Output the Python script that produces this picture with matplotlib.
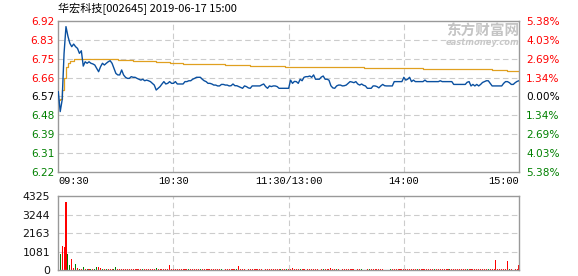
import matplotlib
matplotlib.use("Agg")
import matplotlib.pyplot as plt

# intraday minute prices (09:30 .. 11:30 / 13:00 .. 15:00), 241 points
price = [
    6.592, 6.500, 6.554, 6.770, 6.894, 6.850, 6.817, 6.801, 6.813, 6.801,
    6.793, 6.770, 6.782, 6.711, 6.731, 6.724, 6.731, 6.724, 6.721, 6.716,
    6.701, 6.685, 6.708, 6.724, 6.716, 6.724, 6.731, 6.736, 6.724, 6.701,
    6.677, 6.670, 6.670, 6.693, 6.670, 6.659, 6.654, 6.654, 6.662, 6.659,
    6.659, 6.654, 6.650, 6.646, 6.650, 6.643, 6.646, 6.643, 6.639, 6.631,
    6.623, 6.600, 6.608, 6.616, 6.628, 6.639, 6.628, 6.631, 6.639, 6.631,
    6.631, 6.639, 6.628, 6.628, 6.628, 6.628, 6.639, 6.639, 6.643, 6.643,
    6.650, 6.654, 6.659, 6.659, 6.659, 6.650, 6.643, 6.639, 6.631, 6.631,
    6.628, 6.623, 6.623, 6.619, 6.619, 6.626, 6.626, 6.623, 6.623, 6.619,
    6.620, 6.628, 6.620, 6.620, 6.616, 6.612, 6.608, 6.619, 6.616, 6.610,
    6.608, 6.619, 6.619, 6.619, 6.619, 6.619, 6.624, 6.628, 6.616, 6.608,
    6.619, 6.616, 6.619, 6.619, 6.616, 6.608, 6.608, 6.608, 6.608, 6.608,
    6.608, 6.646, 6.631, 6.640, 6.639, 6.631, 6.650, 6.643, 6.659, 6.662,
    6.662, 6.665, 6.659, 6.670, 6.650, 6.650, 6.650, 6.660, 6.665, 6.650,
    6.650, 6.646, 6.620, 6.610, 6.608, 6.619, 6.623, 6.623, 6.619, 6.620,
    6.623, 6.631, 6.639, 6.637, 6.634, 6.639, 6.628, 6.623, 6.628, 6.622,
    6.619, 6.608, 6.608, 6.608, 6.619, 6.619, 6.616, 6.610, 6.619, 6.626,
    6.620, 6.619, 6.619, 6.619, 6.619, 6.639, 6.639, 6.639, 6.639, 6.639,
    6.659, 6.646, 6.650, 6.659, 6.639, 6.646, 6.639, 6.639, 6.639, 6.639,
    6.639, 6.646, 6.639, 6.639, 6.639, 6.639, 6.639, 6.639, 6.639, 6.643,
    6.639, 6.639, 6.639, 6.639, 6.639, 6.639, 6.626, 6.626, 6.626, 6.626,
    6.626, 6.626, 6.626, 6.636, 6.639, 6.619, 6.626, 6.619, 6.626, 6.619,
    6.626, 6.635, 6.639, 6.643, 6.643, 6.631, 6.619, 6.619, 6.619, 6.619,
    6.619, 6.619, 6.631, 6.639, 6.639, 6.634, 6.626, 6.626, 6.634, 6.640,
    6.643,
]

# average price line (step changes)
avg_min = [0, 1, 2, 3, 4, 5, 6, 8, 10, 21, 31, 39, 51, 58, 65, 87, 100, 118, 159, 190, 226, 234, 240]
avg_val = [6.554, 6.560, 6.600, 6.654, 6.708, 6.727, 6.736, 6.742, 6.745, 6.742, 6.739, 6.733,
           6.728, 6.724, 6.719, 6.714, 6.710, 6.705, 6.701, 6.696, 6.691, 6.687, 6.687]

volume = [
    0, 940, 1410, 1350, 4010, 940, 290, 650, 140, 350,
    120, 80, 60, 180, 60, 60, 60, 60, 60, 60,
    180, 170, 100, 60, 60, 60, 60, 60, 60, 60,
    180, 60, 60, 60, 60, 60, 60, 60, 60, 60,
    60, 60, 60, 60, 60, 60, 60, 60, 60, 60,
    60, 120, 60, 60, 60, 60, 60, 60, 290, 60,
    60, 60, 60, 60, 60, 60, 60, 60, 60, 60,
    60, 60, 60, 60, 60, 60, 60, 60, 60, 60,
    60, 60, 60, 60, 60, 60, 0, 60, 60, 60,
    60, 60, 60, 60, 235, 60, 60, 60, 0, 60,
    60, 60, 60, 60, 60, 60, 60, 0, 60, 60,
    60, 60, 60, 60, 60, 60, 60, 60, 60, 60,
    60, 60, 100, 60, 60, 60, 60, 60, 60, 0,
    60, 60, 60, 60, 60, 60, 0, 60, 60, 60,
    60, 60, 110, 60, 60, 60, 60, 0, 60, 60,
    60, 60, 60, 60, 60, 0, 60, 60, 60, 0,
    0, 60, 60, 60, 60, 60, 60, 60, 60, 60,
    0, 0, 0, 60, 60, 60, 60, 60, 60, 60,
    60, 60, 60, 60, 60, 60, 60, 60, 60, 60,
    60, 60, 60, 60, 60, 60, 60, 60, 60, 60,
    60, 60, 60, 60, 60, 60, 60, 60, 60, 60,
    60, 60, 60, 60, 60, 60, 60, 60, 60, 60,
    60, 60, 60, 60, 60, 60, 60, 60, 590, 60,
    60, 60, 60, 60, 530, 60, 60, 0, 60, 60,
    290,
]

vol_side = (
    "ggrrrggrrgrgrgrgrgrg"
    "grrgrgrrrggrrrrrrrrr"
    "rrrrgrrrrrrgrrrrrrrr"
    "rrrrrrrrgrrrrrgrrrrr"
    "rrrrrgrrrrrrrgrrrrgr"
    "rrrrrrrrrrrrrrrrgrrg"
    "rrrrrrgrrrrrrrrrrrgr"
    "rrrrrgrrrrrrrrrrrrgr"
    "rrgrrrrrrrrrrgrrrrrr"
    "rrrrrrrgrrrrrrrrgrrr"
    "rrrrgrrrrrrrrgrrrrrr"
    "rrrrgrrrrrrrrrrgrrrr"
    "r"
)

price_ticks = ["6.22", "6.31", "6.39", "6.48", "6.57", "6.66", "6.75", "6.83", "6.92"]
pct_ticks = ["5.38%", "4.03%", "2.69%", "1.34%", "0.00%", "1.34%", "2.69%", "4.03%", "5.38%"]
vol_ticks = ["0", "1081", "2163", "3244", "4325"]
time_labels = ["09:30", "10:30", "11:30/13:00", "14:00", "15:00"]

RED = "#ff0000"
GREEN = "#008000"
GRID = "#cccccc"
SPINE = "#999999"

plt.rcParams["font.family"] = ["DejaVu Sans", "Noto Sans CJK SC"]

fig = plt.figure(figsize=(5.78, 2.76), dpi=100)
ax = fig.add_axes([58.3 / 578, 104 / 276, 460.7 / 578, 151 / 276])
axv = fig.add_axes([58.3 / 578, 6 / 276, 460.7 / 578, 73.7 / 276])

pmin, pmax = 6.22, 6.92
step = (pmax - pmin) / 8
yt = [pmin + i * step for i in range(9)]
minutes = list(range(len(price)))

for a in (ax, axv):
    a.set_xlim(0, 240)
    for s in a.spines.values():
        s.set_color(SPINE)
        s.set_linewidth(1.0)
    for m in (60, 120, 180):
        a.axvline(m, color=GRID, lw=0.8, dashes=(5, 3), zorder=0)

for y in yt[1:-1]:
    ax.axhline(y, color=GRID, lw=0.8, dashes=(5, 3), zorder=0)

ax.plot(avg_min, avg_val, color="#e0a020", lw=0.9, drawstyle="steps-post", zorder=2)
ax.plot(minutes, price, color="#0a50a0", lw=1.0, zorder=3)
ax.set_ylim(pmin, pmax)
ax.set_yticks(yt)
ax.set_yticklabels(price_ticks, fontsize=7.6)
ax.set_xticks([])
ax.tick_params(axis="y", length=0, pad=3)
for i, lab in enumerate(ax.get_yticklabels()):
    lab.set_color(GREEN if i < 4 else ("black" if i == 4 else RED))

ax2 = ax.twinx()
ax2.set_ylim(pmin, pmax)
ax2.set_yticks(yt)
ax2.set_yticklabels(pct_ticks, fontsize=7.6)
ax2.tick_params(axis="y", length=0, pad=5)
for s in ax2.spines.values():
    s.set_visible(False)
for i, lab in enumerate(ax2.get_yticklabels()):
    lab.set_color(GREEN if i < 4 else ("black" if i == 4 else RED))

# time labels below price panel
tpos = [0, 60, 120, 180, 240]
has = ["left", "center", "center", "center", "right"]
for t, lab, h in zip(tpos, time_labels, has):
    ax.text(t, -0.06, lab, transform=ax.get_xaxis_transform(), ha=h, va="center",
            fontsize=7.4, family="Liberation Mono", color="black")

# volume panel
vmax = 4325
vt = [0, vmax / 4, vmax / 2, vmax * 3 / 4, vmax]
for y in vt[1:-1]:
    axv.axhline(y, color=GRID, lw=0.8, dashes=(5, 3), zorder=0)
cols = [RED if c == "r" else GREEN for c in vol_side]
axv.bar(minutes, volume, width=0.55, color=cols, linewidth=0, antialiased=False, zorder=2)
axv.set_ylim(0, vmax)
axv.set_yticks(vt)
axv.set_yticklabels(vol_ticks, fontsize=7.8, color="#111111")
axv.set_xticks([])
axv.tick_params(axis="y", length=0, pad=6)

# title
fig.text(58.3 / 578, 1 - 8.5 / 276, "华宏科技[002645] 2019-06-17 15:00", ha="left", va="center",
         fontsize=8, family=["Noto Sans CJK SC", "DejaVu Sans"], color="black")

# watermark
fig.text(519 / 578, 1 - 31 / 276, "东方财富网", ha="right", va="center", fontsize=10.5,
         family=["Noto Sans CJK SC"], weight="bold", color="#c4c4c4")
fig.text(519 / 578, 1 - 42.5 / 276, "eastmoney.com", ha="right", va="center", fontsize=6,
         style="italic", weight="bold", color="#c8c8c8")

fig.savefig("out.png", dpi=100)
